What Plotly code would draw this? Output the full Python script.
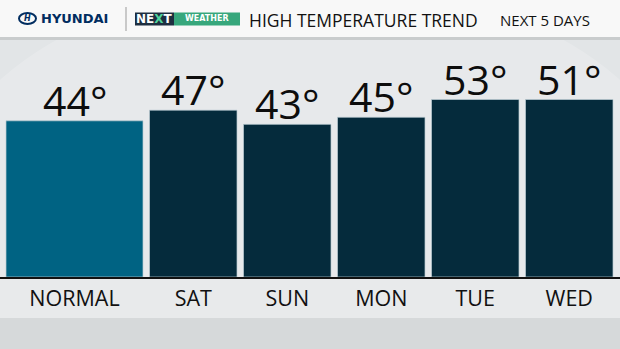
import plotly.graph_objects as go

# ---- data ----
categories = ["NORMAL", "SAT", "SUN", "MON", "TUE", "WED"]
temp_labels = [44, 47, 43, 45, 53, 51]          # printed values (°F)
bar_heights = [44, 47, 43, 45, 50, 50]          # bar heights as drawn in the graphic
title_text = "HIGH TEMPERATURE TREND"
subtitle_text = "NEXT 5 DAYS"

# ---- layout geometry (pixels) ----
W, H = 620, 349
TOP, BASE = 40, 277
PLOT_H = BASE - TOP
PX_PER_DEG = 3.55
widths = [137] + [87.5] * 5
gap = 6.5
start = 6

centers = []
x = start
for w in widths:
    centers.append(x + w / 2)
    x += w + gap

colors = ["#006383"] + ["#052b3c"] * 5


def py(p):
    """pixel row -> paper y"""
    return (BASE - p) / PLOT_H


fig = go.Figure()
fig.add_trace(go.Bar(
    x=centers, y=bar_heights, width=widths,
    marker=dict(color=colors, line=dict(color="rgba(190,205,212,0.7)", width=1)),
    hoverinfo="skip",
))

shapes = []
# background layers
shapes.append(dict(type="circle", xref="x", yref="paper", x0=-60, x1=680,
                   y0=py(420), y1=py(-20), fillcolor="rgba(255,255,255,0.18)",
                   line=dict(width=0), layer="below"))
shapes.append(dict(type="rect", xref="x", yref="paper", x0=0, x1=W,
                   y0=py(278), y1=py(318), fillcolor="#e8eaeb",
                   line=dict(width=0), layer="below"))
shapes.append(dict(type="rect", xref="x", yref="paper", x0=0, x1=W,
                   y0=py(349), y1=py(318), fillcolor="#d6d9da",
                   line=dict(width=0), layer="below"))
# header
shapes.append(dict(type="rect", xref="x", yref="paper", x0=0, x1=W,
                   y0=py(37), y1=py(0), fillcolor="#f8f8f8",
                   line=dict(width=0), layer="below"))
shapes.append(dict(type="rect", xref="x", yref="paper", x0=0, x1=W,
                   y0=py(40), y1=py(37), fillcolor="#c9cccd",
                   line=dict(width=0), layer="below"))
# hyundai logo ellipse
shapes.append(dict(type="circle", xref="x", yref="paper", x0=19, x1=36,
                   y0=py(24), y1=py(13), line=dict(color="#002c5f", width=2)))
# separator
shapes.append(dict(type="line", xref="x", yref="paper", x0=126, x1=126,
                   y0=py(31), y1=py(7), line=dict(color="#9a9a9a", width=1)))
# NEXT WEATHER badge
shapes.append(dict(type="rect", xref="x", yref="paper", x0=135, x1=174,
                   y0=py(25.5), y1=py(12.5), fillcolor="#1e2e40", line=dict(width=0)))
shapes.append(dict(type="rect", xref="x", yref="paper", x0=174, x1=240,
                   y0=py(25.5), y1=py(12.5), fillcolor="#37a77c", line=dict(width=0)))

hdr = dict(xref="x", yref="paper", showarrow=False, yanchor="middle")
annotations = [
    dict(x=27.5, y=py(18.5), text="<b><i>H</i></b>",
         font=dict(family="DejaVu Sans", size=8, color="#002c5f"), **hdr),
    dict(x=39, y=py(18.5), xanchor="left", text="<b>HYUNDAI</b>",
         font=dict(family="DejaVu Sans", size=13, color="#002c5f"), **hdr),
    dict(x=154.5, y=py(19), text="<b>NE<span style='color:#4fd39c'>X</span>T</b>",
         font=dict(family="DejaVu Sans", size=12, color="#ffffff"), **hdr),
    dict(x=207, y=py(19), text="<b>WEATHER</b>",
         font=dict(family="DejaVu Sans", size=8, color="#ffffff"), **hdr),
    dict(x=247, y=py(20), xanchor="left", text=title_text,
         font=dict(family="Open Sans", size=17.5, color="#111111", weight=500), **hdr),
    dict(x=498, y=py(20), xanchor="left", text=subtitle_text,
         font=dict(family="Open Sans", size=15, color="#111111", weight=500), **hdr),
]
# value labels on top of bars
for cx, h, t in zip(centers, bar_heights, temp_labels):
    annotations.append(dict(x=cx, y=h, xref="x", yref="y", text=f"{t}°",
                            showarrow=False, yanchor="bottom", yshift=-9,
                            font=dict(family="Open Sans", size=41, color="#0d0d0d",
                                      weight=500)))

fig.update_layout(
    width=W, height=H,
    margin=dict(l=0, r=0, t=TOP, b=H - BASE, pad=0),
    paper_bgcolor="#e2e5e7", plot_bgcolor="rgba(0,0,0,0)",
    showlegend=False,
    shapes=shapes, annotations=annotations,
    xaxis=dict(range=[0, W], tickvals=centers, ticktext=categories,
               showgrid=False, zeroline=False, showline=True,
               linecolor="#111111", linewidth=2,
               ticks="outside", ticklen=1, tickcolor="rgba(0,0,0,0)",
               tickfont=dict(family="Open Sans", size=21.5, color="#111111", weight=500),
               fixedrange=True),
    yaxis=dict(range=[0, PLOT_H / PX_PER_DEG], visible=False, fixedrange=True),
)

fig.write_html("out.html", config={"displayModeBar": False})
